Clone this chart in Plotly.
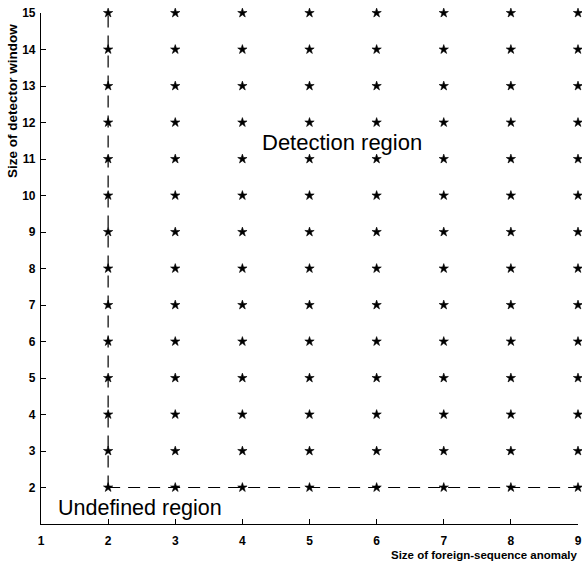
import plotly.graph_objects as go

anomaly_sizes = [2, 3, 4, 5, 6, 7, 8, 9]
window_sizes = list(range(2, 16))
x_ticks = [1, 2, 3, 4, 5, 6, 7, 8, 9]
y_ticks = list(range(2, 16))

xs, ys = [], []
for w in window_sizes:
    for a in anomaly_sizes:
        xs.append(a)
        ys.append(w)

fig = go.Figure()
dash = dict(color="black", width=1.2, dash="12px,8px")
fig.add_trace(go.Scatter(x=[2, 2], y=[2, 15], mode="lines", line=dash, hoverinfo="skip"))
fig.add_trace(go.Scatter(x=[2, 9], y=[2, 2], mode="lines", line=dash, hoverinfo="skip"))
fig.add_trace(go.Scatter(x=xs, y=ys, mode="markers", cliponaxis=False,
                         marker=dict(symbol="star", size=7, color="black",
                                     line=dict(color="black", width=0.6))))

FONT = "Liberation Sans, Arial"
tickfont = dict(family=FONT, size=12, color="black", weight="bold")
fig.update_layout(
    width=582, height=562,
    margin=dict(l=41, r=4, t=13, b=38, autoexpand=False),
    plot_bgcolor="white", paper_bgcolor="white",
    showlegend=False,
    font=dict(family=FONT, color="black"),
    xaxis=dict(range=[1, 9], tickvals=x_ticks, ticks="inside", ticklen=5,
               showgrid=False, zeroline=False, showline=True, linecolor="black",
               linewidth=1.2, tickfont=tickfont, tickcolor="black",
               ticklabelstandoff=5, automargin=False, ticklabeloverflow="allow"),
    yaxis=dict(range=[1, 15], tickvals=y_ticks, ticks="inside", ticklen=5,
               showgrid=False, zeroline=False, showline=True, linecolor="black",
               linewidth=1.2, tickfont=tickfont, tickcolor="black",
               ticklabelstandoff=2, automargin=False, ticklabeloverflow="allow"),
    annotations=[
        dict(x=5.49, y=11.44, xref="x", yref="y", text="Detection region", showarrow=False,
             font=dict(family=FONT, size=22, color="black")),
        dict(x=2.48, y=1.44, xref="x", yref="y", text="Undefined region", showarrow=False,
             font=dict(family=FONT, size=21.5, color="black")),
        dict(x=1.0037, y=-0.0607, xref="paper", yref="paper", xanchor="right", yanchor="middle",
             text="<b>Size of foreign-sequence anomaly</b>", showarrow=False,
             font=dict(family=FONT, size=11.5, color="black")),
        dict(x=-0.052, y=0.828, xref="paper", yref="paper", xanchor="center", yanchor="middle",
             text="<b>Size of detector window</b>", showarrow=False, textangle=-90,
             font=dict(family=FONT, size=13.5, color="black")),
    ],
)
fig.write_html(
    "out.html",
    config={"displayModeBar": False},
    post_script="document.body.style.margin='0';document.body.style.overflow='hidden';",
)
